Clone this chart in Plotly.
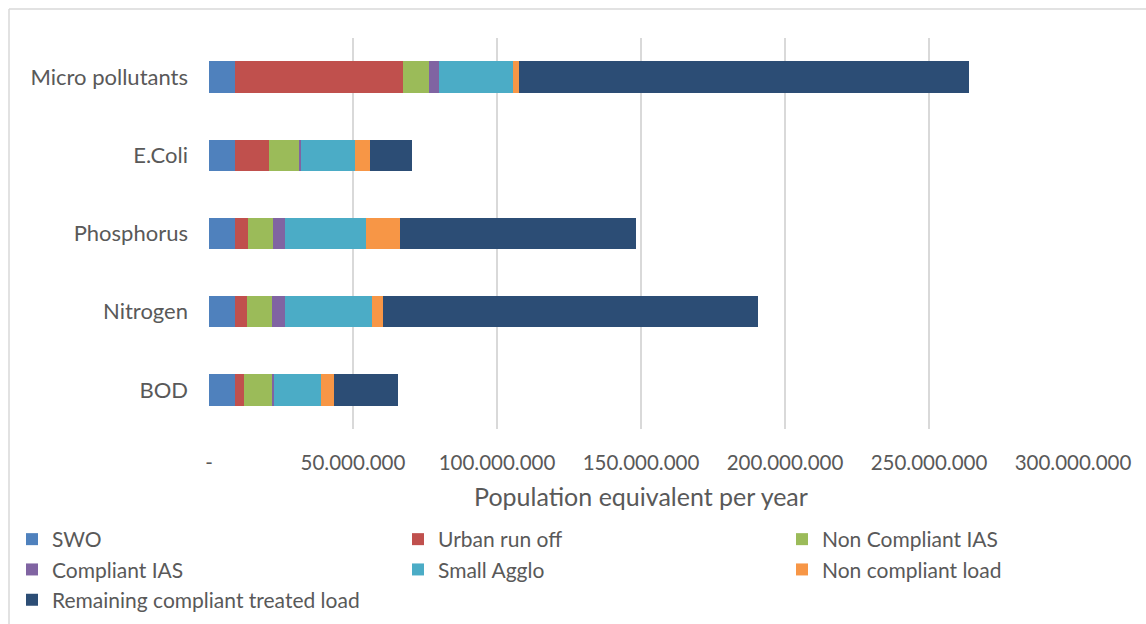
import plotly.graph_objects as go

# Pollutant categories, listed bottom to top
categories = ["BOD", "Nitrogen", "Phosphorus", "E.Coli", "Micro pollutants"]

# Load per source, in population equivalent per year
swo = [9.0e6, 9.1e6, 9.0e6, 9.0e6, 9.0e6]
urban_run_off = [3.1e6, 4.0e6, 4.6e6, 11.8e6, 58.3e6]
non_compliant_ias = [9.8e6, 8.6e6, 8.6e6, 10.4e6, 9.0e6]
compliant_ias = [0.6e6, 4.7e6, 4.3e6, 0.9e6, 3.4e6]
small_agglo = [16.4e6, 30.3e6, 28.0e6, 18.5e6, 25.7e6]
non_compliant_load = [4.5e6, 3.7e6, 11.7e6, 5.4e6, 2.3e6]
remaining_treated = [22.2e6, 130.1e6, 82.0e6, 14.6e6, 156.1e6]

tick_values = [0, 50e6, 100e6, 150e6, 200e6, 250e6, 300e6]
tick_labels = ["-", "50.000.000", "100.000.000", "150.000.000",
               "200.000.000", "250.000.000", "300.000.000"]

# name, values, colour, legend column
series = [
    ("SWO", swo, "#4F81BD", "legend"),
    ("Urban run off", urban_run_off, "#C0504D", "legend2"),
    ("Non Compliant IAS", non_compliant_ias, "#9BBB59", "legend3"),
    ("Compliant IAS", compliant_ias, "#8064A2", "legend"),
    ("Small Agglo", small_agglo, "#4BACC6", "legend2"),
    ("Non compliant load", non_compliant_load, "#F79646", "legend3"),
    ("Remaining compliant treated load", remaining_treated, "#2C4D75", "legend"),
]

FONT = "Lato, 'Open Sans', sans-serif"
GREY = "#595959"

fig = go.Figure()
for name, values, color, leg in series:
    fig.add_trace(go.Bar(
        name=name, y=categories, x=values, orientation="h",
        marker=dict(color=color, line=dict(width=0)),
        width=0.4, legend=leg,
    ))

W, H = 1146, 624
L, R, T, B = 209, 73, 38, 195
pw, ph = W - L - R, H - T - B

def px_x(x):
    return (x - L) / pw

def px_y(y):
    return (H - B - y) / ph

def legend_column(x_px):
    return dict(
        orientation="v", xref="container", yref="container",
        x=x_px / W, y=(H - 519) / H, xanchor="left", yanchor="top",
        bgcolor="rgba(0,0,0,0)",
        font=dict(size=21, color=GREY), traceorder="normal",
        itemclick=False, itemdoubleclick=False,
    )

fig.update_layout(
    barmode="stack",
    width=W, height=H,
    margin=dict(l=L, r=R, t=T, b=B, autoexpand=False),
    paper_bgcolor="white", plot_bgcolor="white",
    font=dict(family=FONT, size=20, color=GREY),
    xaxis=dict(
        range=[0, 300e6], tickvals=tick_values, ticktext=tick_labels,
        showgrid=True, gridcolor="#D9D9D9", gridwidth=2,
        zeroline=False, showline=False, ticks="",
        ticklabelstandoff=19,
        tickfont=dict(size=20.5, color=GREY),
        title=dict(text="Population equivalent per year", standoff=15,
                   font=dict(size=25, color=GREY)),
        fixedrange=True,
    ),
    yaxis=dict(
        showgrid=False, zeroline=False, showline=False, ticks="",
        tickfont=dict(size=22, color=GREY),
        ticklabelstandoff=20, fixedrange=True,
    ),
    legend=legend_column(12),
    legend2=legend_column(398),
    legend3=legend_column(782),
    shapes=[
        dict(type="line", xref="paper", yref="paper",
             x0=px_x(9), x1=px_x(W + 5), y0=px_y(9), y1=px_y(9),
             line=dict(color="#D9D9D9", width=1.5)),
        dict(type="line", xref="paper", yref="paper",
             x0=px_x(9), x1=px_x(9), y0=px_y(9), y1=px_y(H + 5),
             line=dict(color="#D9D9D9", width=1.5)),
    ],
    showlegend=True,
)

fig.write_html("out.html", config={"displayModeBar": False})
